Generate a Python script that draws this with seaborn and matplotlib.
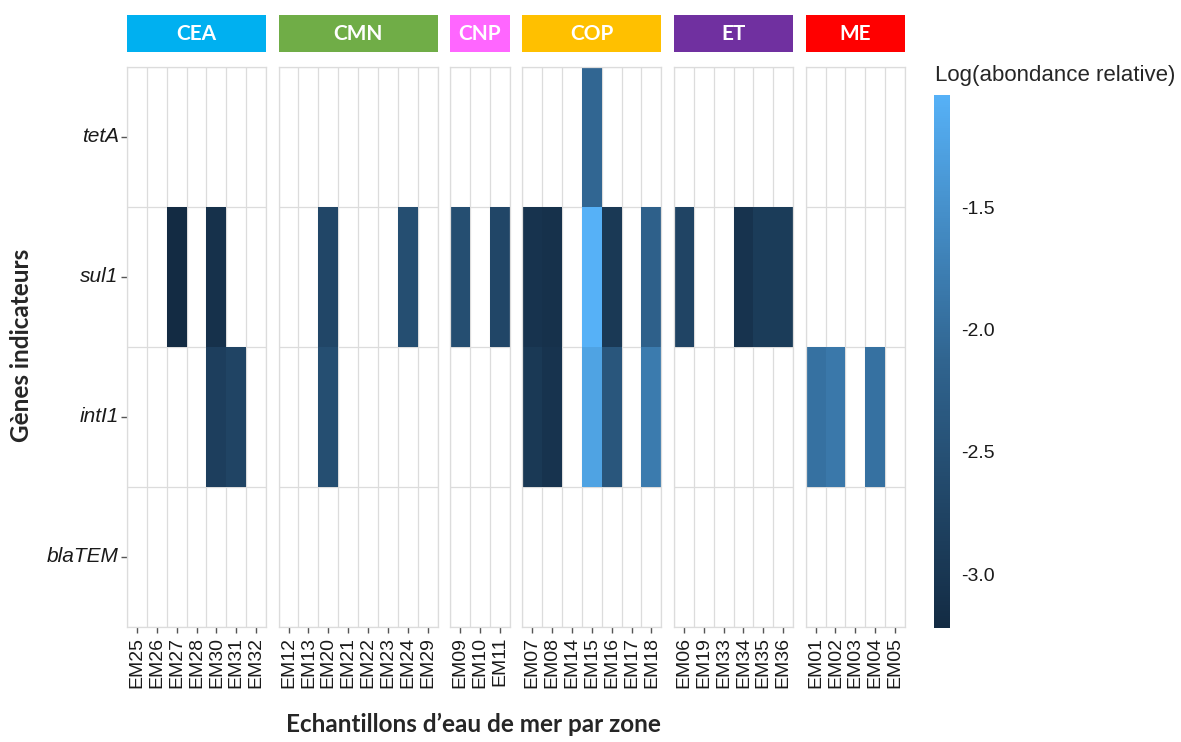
import numpy as np
import pandas as pd
import matplotlib
matplotlib.use("Agg")
import matplotlib.pyplot as plt
import seaborn as sns
from matplotlib.colors import LinearSegmentedColormap
from matplotlib.patches import Rectangle

nan = np.nan

# Zones, couleurs des bandeaux et échantillons
zones = ["CEA", "CMN", "CNP", "COP", "ET", "ME"]
zone_colors = ["#00B0F0", "#70AD47", "#FF66FF", "#FFC000", "#7030A0", "#FF0000"]
cea = ["EM25", "EM26", "EM27", "EM28", "EM30", "EM31", "EM32"]
cmn = ["EM12", "EM13", "EM20", "EM21", "EM22", "EM23", "EM24", "EM29"]
cnp = ["EM09", "EM10", "EM11"]
cop = ["EM07", "EM08", "EM14", "EM15", "EM16", "EM17", "EM18"]
et = ["EM06", "EM19", "EM33", "EM34", "EM35", "EM36"]
me = ["EM01", "EM02", "EM03", "EM04", "EM05"]
zone_samples = [cea, cmn, cnp, cop, et, me]

genes = ["tetA", "sul1", "intI1", "blaTEM"]

# Log(abondance relative), dans l'ordre CEA | CMN | CNP | COP | ET | ME
tetA = [nan, nan, nan, nan, nan, nan, nan,
        nan, nan, nan, nan, nan, nan, nan, nan,
        nan, nan, nan,
        nan, nan, nan, -2.10, nan, nan, nan,
        nan, nan, nan, nan, nan, nan,
        nan, nan, nan, nan, nan]
sul1 = [nan, nan, -3.22, nan, -3.10, nan, nan,
        nan, nan, -2.70, nan, nan, nan, -2.55, nan,
        -2.55, nan, -2.70,
        -3.05, -3.10, nan, -1.04, -2.95, nan, -2.20,
        -2.75, nan, nan, -3.05, -2.90, -2.90,
        nan, nan, nan, nan, nan]
intI1 = [nan, nan, nan, nan, -2.85, -2.75, nan,
         nan, nan, -2.55, nan, nan, nan, nan, nan,
         nan, nan, nan,
         -2.95, -3.05, nan, -1.25, -2.40, nan, -1.80,
         nan, nan, nan, nan, nan, nan,
         -1.95, -1.85, nan, -1.95, nan]
blaTEM = [nan] * 36

samples = sum(zone_samples, [])
sample_zone = sum([[z] * len(s) for z, s in zip(zones, zone_samples)], [])

rows = []
for g, vals in zip(genes, [tetA, sul1, intI1, blaTEM]):
    for s, z, v in zip(samples, sample_zone, vals):
        rows.append({"gene": g, "sample": s, "zone": z, "value": v})
df = pd.DataFrame(rows)

vmin, vmax = df["value"].min(), df["value"].max()
cmap = LinearSegmentedColormap.from_list("gg", ["#132B43", "#30648F", "#56B1F7"])

sns.set_style("white")
plt.rcParams["font.family"] = ["Liberation Sans", "DejaVu Sans"]

W, H = 1181, 742
fig = plt.figure(figsize=(W / 100, H / 100), dpi=100)
p_left, p_right, p_top, p_bot = 127, 905, 67, 627
gs = fig.add_gridspec(1, 6, width_ratios=[len(s) for s in zone_samples],
                      left=p_left / W, right=p_right / W,
                      top=1 - p_top / H, bottom=1 - p_bot / H, wspace=0.105)
cax = fig.add_axes([934 / W, 1 - 628 / H, 16 / W, 533 / H])

panel_h = p_bot - p_top
grid_col = "#dcdcdc"
cbar = None

for i, (zone, col, zs) in enumerate(zip(zones, zone_colors, zone_samples)):
    ax = fig.add_subplot(gs[0, i])
    sub = (df[df["zone"] == zone]
           .pivot(index="gene", columns="sample", values="value")
           .reindex(index=genes, columns=zs))
    sns.heatmap(sub, ax=ax, cmap=cmap, vmin=vmin, vmax=vmax,
                cbar=(i == 0), cbar_ax=cax if i == 0 else None)
    if i == 0:
        cbar = ax.collections[0].colorbar
    ax.set_xlabel("")
    ax.set_ylabel("")
    ax.set_facecolor("white")

    # grille grise entre les cases
    ax.set_xticks(np.arange(len(zs) + 1), minor=True)
    ax.set_yticks(np.arange(len(genes) + 1), minor=True)
    ax.grid(which="minor", color=grid_col, lw=0.9)
    ax.tick_params(which="minor", length=0)
    for sp in ax.spines.values():
        sp.set_visible(True)
        sp.set_color(grid_col)
        sp.set_linewidth(0.9)

    ax.set_xticklabels(zs, rotation=90, fontsize=14, color="#1a1a1a")
    ax.tick_params(axis="x", which="major", bottom=True, length=4, width=1, color="#555555", pad=3)
    if i == 0:
        ax.set_yticklabels(genes, rotation=0, fontsize=15, style="italic", color="#1a1a1a")
        ax.tick_params(axis="y", which="major", left=True, length=4, width=1, color="#555555", pad=2)
    else:
        ax.tick_params(axis="y", which="major", left=False, labelleft=False)

    # bandeau de zone
    ax.add_patch(Rectangle((0, 1 + 15 / panel_h), 1, 37 / panel_h, transform=ax.transAxes,
                           clip_on=False, facecolor=col, edgecolor="none"))
    ax.text(0.5, 1 + 33.5 / panel_h, zone, transform=ax.transAxes, ha="center", va="center",
            color="white", fontsize=15, fontweight="bold", family=["Lato", "DejaVu Sans"])

# légende de couleur
cbar_ticks = [-3.0, -2.5, -2.0, -1.5]
cbar.set_ticks(cbar_ticks)
cbar.set_ticklabels([f"{t:.1f}" for t in cbar_ticks])
cbar.outline.set_visible(False)
cax.tick_params(length=3, color="white", direction="in", pad=8, labelsize=14, labelcolor="#1a1a1a")
fig.text(935 / W, 1 - 75 / H, "Log(abondance relative)", ha="left", va="center", fontsize=16)

fig.text(473 / W, 1 - 724 / H, "Echantillons d\u2019eau de mer par zone", ha="center", va="center",
         fontsize=17.5, fontweight="bold", family=["Lato", "DejaVu Sans"])
fig.text(22 / W, 1 - 345 / H, "Gènes indicateurs", ha="center", va="center", rotation=90,
         fontsize=17.5, fontweight="bold", family=["Lato", "DejaVu Sans"])

fig.savefig("out.png", dpi=100, facecolor="white")
